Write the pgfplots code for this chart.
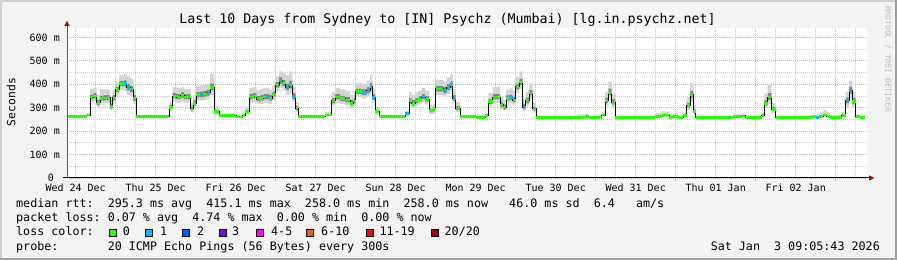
\documentclass[border=0pt]{standalone}
\usepackage{fontspec}
\usepackage{pgfplots}
\usepackage{pgfplotstable}
\pgfplotsset{compat=1.18}
\newfontfamily\mono{DejaVu Sans Mono}
\definecolor{bgc}{HTML}{F3F3F3}
\definecolor{shadea}{HTML}{CFCFCF}
\definecolor{shadeb}{HTML}{9E9E9E}
\definecolor{mgridc}{HTML}{E8A4A4}
\definecolor{gridc}{HTML}{CCCCCC}
\definecolor{arrowc}{HTML}{A01010}
\definecolor{smokeo}{HTML}{D4D4D4}
\definecolor{smokei}{HTML}{858585}
\definecolor{loss0}{HTML}{26FF00}
\definecolor{loss1}{HTML}{00B8FF}
\definecolor{loss2}{HTML}{0059FF}
\definecolor{loss3}{HTML}{7E00FF}
\definecolor{loss4}{HTML}{FF00FF}
\definecolor{loss6}{HTML}{FF5500}
\definecolor{loss11}{HTML}{FF0000}
\definecolor{loss20}{HTML}{A10000}
\newcommand{\leg}{\mono\fontsize{11.7bp}{13bp}\selectfont}
\newcommand{\tck}{\mono\fontsize{10bp}{12bp}\selectfont}

% hours since Wed 24 Dec 00:00; median; smoke: outer low, inner low, inner high, outer high (ms)
\pgfplotstableread{
t med lo ilo ihi hi
9.4 262 261 262 263 264
15.3 268 264 266 271 278
16.3 345 322 335 357 380
17.3 350 325 340 362 385
18.3 322 300 312 334 355
19.3 340 318 330 352 378
20.3 342 318 332 354 378
22.3 305 288 296 317 335
23.1 342 318 332 354 375
24.0 377 352 366 390 410
25.1 402 375 391 416 440
26.5 402 372 390 418 445
27.3 386 355 374 402 435
28.3 379 350 367 394 425
29.3 340 315 329 354 375
30.1 262 261 262 263 264
40.1 302 288 295 311 322
41.1 350 325 340 364 388
42.3 345 322 335 359 385
43.5 352 326 342 366 388
44.5 345 322 335 358 380
46.5 295 280 287 306 320
47.3 319 300 309 332 350
48.1 355 330 345 369 392
49.3 355 330 344 370 395
50.3 358 332 347 372 398
51.3 363 335 352 378 402
52.3 386 355 374 404 445
53.6 283 270 276 292 305
55.1 266 262 264 269 275
60.1 260 259 259 261 262
62.1 266 262 264 269 276
62.9 283 272 277 291 300
64.1 345 320 335 359 385
65.1 350 325 340 364 388
66.3 337 315 327 351 375
67.3 340 316 330 354 380
68.3 345 320 335 359 385
69.1 345 320 335 359 385
70.0 340 316 330 354 378
71.0 357 333 347 370 395
72.0 397 370 386 410 435
73.0 414 385 402 430 455
74.0 405 375 393 420 448
75.0 388 355 376 404 440
76.0 397 362 384 414 455
77.0 348 325 337 362 390
78.0 298 282 290 308 325
78.8 262 261 262 263 264
86.8 269 264 266 273 282
88.8 330 310 320 342 365
89.8 345 322 335 359 385
91.3 338 316 328 352 378
92.8 333 312 323 347 372
94.3 319 300 309 332 355
95.3 329 308 319 342 365
96.0 369 345 359 382 405
97.8 365 340 354 379 402
99.3 373 348 362 388 415
100.3 390 360 378 406 440
101.0 343 320 333 358 382
101.8 284 272 278 292 302
103.0 262 261 262 263 264
110.8 274 266 270 279 288
112.0 331 310 321 344 368
112.8 319 300 309 332 355
113.8 329 308 319 342 365
114.8 336 315 326 349 372
115.8 345 322 335 359 385
116.8 336 315 326 349 372
118.0 288 274 281 297 312
119.3 293 278 285 302 318
120.0 380 355 369 394 418
122.3 373 348 362 388 412
123.3 386 358 375 401 428
124.4 398 368 386 414 445
125.1 340 318 330 354 380
126.0 298 282 290 308 325
127.3 262 261 262 263 264
132.1 259 258 258 260 261
134.8 266 262 264 269 276
135.8 326 305 316 339 362
137.1 345 320 335 360 388
139.3 312 293 302 324 345
140.3 303 286 294 314 332
141.1 340 318 330 354 378
142.3 343 320 333 357 382
143.1 333 312 323 347 372
144.0 390 362 378 404 432
145.1 409 380 397 424 455
146.1 303 285 294 316 338
147.0 330 310 320 344 368
148.1 362 338 351 377 405
149.1 295 280 288 305 322
150.1 259 258 258 260 261
162.3 259 258 259 263 272
164.8 262 259 260 266 275
166.1 259 258 258 261 266
169.8 269 263 266 274 283
170.8 330 308 320 344 368
171.8 366 338 354 382 412
172.8 323 302 313 337 358
173.9 259 258 258 260 262
185.8 262 259 260 266 278
187.8 266 260 263 271 285
188.8 269 261 265 274 283
190.1 259 258 258 262 270
191.3 262 259 260 264 270
192.8 259 258 258 260 262
194.3 266 262 264 270 278
195.3 309 290 300 322 345
196.3 355 325 343 372 405
197.3 284 272 278 293 308
198.0 259 258 258 260 262
209.3 262 259 260 265 272
211.8 265 259 262 269 276
212.8 259 258 258 261 265
217.8 266 261 264 270 278
218.6 319 298 309 334 360
219.6 345 315 333 364 400
220.8 293 278 286 303 320
222.0 259 258 258 260 262
232.8 262 259 260 265 270
234.0 258 257 257 262 268
235.0 262 259 260 268 280
236.3 269 261 265 276 290
237.3 262 259 260 268 280
238.3 259 258 258 262 268
241.8 266 261 264 270 278
243.0 329 302 318 344 370
244.0 372 340 358 390 415
245.0 326 302 315 342 368
246.0 262 259 260 265 270
247.3 259 258 258 260 262
248.8 259 258 258 260 262
}\rtt

\begin{document}
\begin{tikzpicture}
\useasboundingbox (0,0) rectangle (897bp,260bp);
\fill[bgc] (0,0) rectangle (897bp,260bp);
\fill[shadea] (0,0) rectangle (2bp,260bp);
\fill[shadea] (0,258bp) rectangle (897bp,260bp);
\fill[shadeb] (895bp,0) rectangle (897bp,260bp);
\fill[shadeb] (0,0) rectangle (897bp,2bp);

\begin{axis}[
  at={(67bp,82bp)}, anchor=south west,
  scale only axis, width=800bp, height=150bp,
  xmin=9.4, xmax=249.4, ymin=0, ymax=640,
  axis background/.style={fill=white},
  axis line style={draw=none},
  major tick length=0pt, minor tick length=0pt,
  xtick={24,48,72,96,120,144,168,192,216,240},
  xticklabels={},
  minor xtick={12,18,30,36,42,54,60,66,78,84,90,102,108,114,126,132,138,150,156,162,174,180,186,198,204,210,222,228,234,246},
  ytick={0,100,200,300,400,500,600},
  yticklabels={0~~,100~m,200~m,300~m,400~m,500~m,600~m},
  minor ytick={50,150,250,350,450,550},
  grid=both,
  major grid style={mgridc, dash pattern=on 1bp off 1bp, line width=0.8bp},
  minor grid style={gridc, dash pattern=on 1bp off 1bp, line width=0.8bp},
  extra x ticks={12,36,60,84,108,132,156,180,204,228},
  extra x tick labels={Wed~24~Dec,Thu~25~Dec,Fri~26~Dec,Sat~27~Dec,Sun~28~Dec,Mon~29~Dec,Tue~30~Dec,Wed~31~Dec,Thu~01~Jan,Fri~02~Jan},
  extra x tick style={grid=none},
  xticklabel style={anchor=base, inner sep=0pt, yshift=-13.3bp, font=\tck},
  yticklabel style={anchor=east, inner sep=0pt, xshift=-7bp, font=\tck},
]
% smoke: stacked bands
\addplot[stack plots=y, const plot, draw=none, forget plot] table[x=t,y=lo]{\rtt};
\addplot[stack plots=y, const plot, draw=none, fill=smokeo, forget plot] table[x=t,y expr=\thisrow{ilo}-\thisrow{lo}]{\rtt} \closedcycle;
\addplot[stack plots=y, const plot, draw=none, fill=smokei, forget plot] table[x=t,y expr=\thisrow{ihi}-\thisrow{ilo}]{\rtt} \closedcycle;
\addplot[stack plots=y, const plot, draw=none, fill=smokeo, forget plot] table[x=t,y expr=\thisrow{hi}-\thisrow{ihi}]{\rtt} \closedcycle;
% median
\addplot[stack plots=false, const plot, black, line width=0.9bp] table[x=t,y=med]{\rtt};
\addplot[stack plots=false, jump mark left, loss0, line width=2.6bp] table[x=t,y=med]{\rtt};
\addplot[stack plots=false, loss1, line width=2.6bp, unbounded coords=jump] coordinates {
(26.5,402) (27.3,402) (27.3,nan)
(27.3,386) (28.3,386) (28.3,nan)
(49.3,355) (50.3,355) (50.3,nan)
(51.3,363) (52.3,363) (52.3,nan)
(69.1,345) (70.0,345) (70.0,nan)
(73.0,414) (74.0,414) (74.0,nan)
(75.0,388) (76.0,388) (76.0,nan)
(77.0,348) (78.0,348) (78.0,nan)
(97.8,365) (99.3,365) (99.3,nan)
(99.3,373) (100.3,373) (100.3,nan)
(100.3,390) (101.0,390) (101.0,nan)
(101.0,343) (101.8,343) (101.8,nan)
(110.8,274) (112.0,274) (112.0,nan)
(115.8,345) (116.8,345) (116.8,nan)
(122.3,373) (123.3,373) (123.3,nan)
(123.3,386) (124.4,386) (124.4,nan)
(124.4,398) (125.1,398) (125.1,nan)
(125.1,340) (126.0,340) (126.0,nan)
(142.3,343) (143.1,343) (143.1,nan)
(146.1,303) (147.0,303) (147.0,nan)
(234.0,258) (235.0,258) (235.0,nan)
(243.0,329) (244.0,329) (244.0,nan)
(244.0,372) (245.0,372)
};
\end{axis}

% axes with arrows
\draw[black!65, line width=1bp] (67bp,82bp) -- (67bp,234bp);
\fill[arrowc] (64.3bp,234bp) -- (69.7bp,234bp) -- (67bp,239.5bp) -- cycle;
\draw[black, line width=1bp] (63bp,82bp) -- (869bp,82bp);
\fill[arrowc] (869bp,79.3bp) -- (869bp,84.7bp) -- (874.5bp,82bp) -- cycle;
\foreach \d in {0,...,9} \draw[mgridc, line width=0.8bp] ({115.7bp+80bp*\d},82bp) -- ({115.7bp+80bp*\d},78.5bp);

% texts
\node[anchor=base, inner sep=0pt, font=\mono\fontsize{13.3bp}{15bp}\selectfont] at (447.5bp,236.7bp) {Last 10 Days from Sydney to [IN] Psychz (Mumbai) [lg.in.psychz.net]};
\node[rotate=90, inner sep=0pt, font=\mono\fontsize{11.4bp}{13bp}\selectfont] at (11bp,158bp) {Seconds};
\node[rotate=-90, inner sep=0pt, text=black!25, font=\mono\fontsize{8bp}{9bp}\selectfont] at (888bp,201bp) {RRDTOOL / TOBI OETIKER};

\node[anchor=base west, inner sep=0pt, font=\leg] at (16bp,52.6bp) {median~rtt:~~295.3~ms~avg~~415.1~ms~max~~258.0~ms~min~~258.0~ms~now~~~46.0~ms~sd~~6.4~~~am/s};
\node[anchor=base west, inner sep=0pt, font=\leg] at (16bp,38.4bp) {packet~loss:~0.07~\%~avg~~4.74~\%~max~~0.00~\%~min~~0.00~\%~now};
\node[anchor=base west, inner sep=0pt, font=\leg] at (16bp,24.2bp) {loss~color:};
\node[anchor=base west, inner sep=0pt, font=\leg] at (16bp,10bp) {probe:~~~~~~~20~ICMP~Echo~Pings~(56~Bytes)~every~300s};
\node[anchor=base east, inner sep=0pt, font=\leg] at (880bp,10bp) {Sat~Jan~~3~09:05:43~2026};

\foreach \sx/\lx/\c/\t in {109.3/122.6/loss0/0, 145.7/160/loss1/1, 182.7/197/loss2/2, 219/232/loss3/3, 256/271/loss4/4-5, 306.7/321/loss6/6-10, 366/379.3/loss11/11-19, 431.7/444.5/loss20/20\slash 20}{
  \filldraw[fill=\c, draw=black, line width=0.8bp] (\sx bp,23.6bp) rectangle ({\sx bp+7bp},30.6bp);
  \node[anchor=base west, inner sep=0pt, font=\leg] at (\lx bp,24.2bp) {\t};
}
\end{tikzpicture}
\end{document}
